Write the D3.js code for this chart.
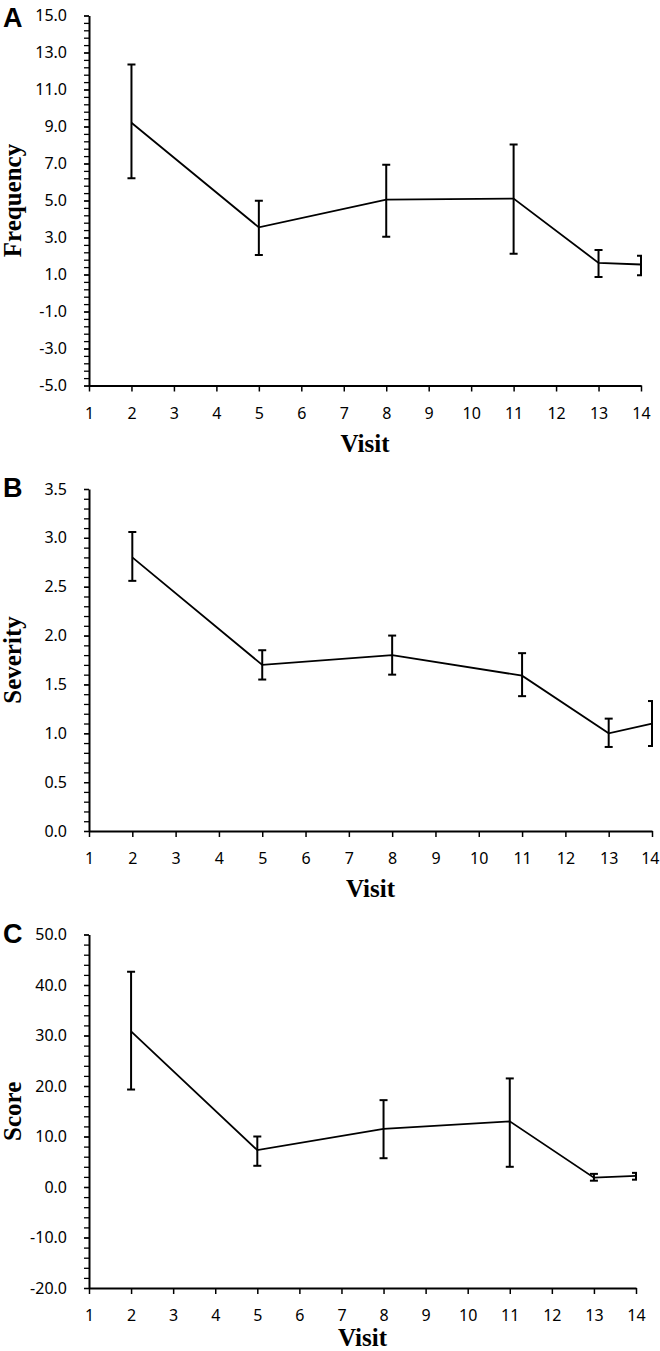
<!DOCTYPE html>
<html>
<head>
<meta charset="utf-8">
<script src="https://cdn.jsdelivr.net/npm/d3@7"></script>
<style>
  html, body { margin: 0; padding: 0; background: #fff; }
  svg { display: block; }
</style>
</head>
<body>
<svg id="chart" width="660" height="1351"></svg>
<script>
// ---------------- DATA ----------------
const visits = [2, 5, 8, 11, 13, 14];
const xTickValues = [1, 2, 3, 4, 5, 6, 7, 8, 9, 10, 11, 12, 13, 14];

const freqMean = [9.2, 3.55, 5.05, 5.1, 1.63, 1.54];
const freqLow  = [6.2, 2.05, 3.04, 2.12, 0.86, 0.96];
const freqHigh = [12.35, 4.98, 6.93, 8.03, 2.33, 2.01];
const freqTicks = [-5, -3, -1, 1, 3, 5, 7, 9, 11, 13, 15];

const sevMean = [2.8, 1.7, 1.8, 1.59, 1.0, 1.1];
const sevLow  = [2.56, 1.55, 1.6, 1.38, 0.86, 0.87];
const sevHigh = [3.06, 1.85, 2.0, 1.82, 1.15, 1.33];
const sevTicks = [0, 0.5, 1.0, 1.5, 2.0, 2.5, 3.0, 3.5];

const scoreMean = [30.8, 7.3, 11.5, 13.0, 1.85, 2.2];
const scoreLow  = [19.3, 4.2, 5.7, 4.0, 1.25, 1.45];
const scoreHigh = [42.6, 10.0, 17.2, 21.5, 2.6, 2.8];
const scoreTicks = [-20, -10, 0, 10, 20, 30, 40, 50];

const panelLetters = ["A", "B", "C"];
const yTitles = ["Frequency", "Severity", "Score"];
const xTitle = "Visit";

// ---------------- LAYOUT ----------------
const panels = [
  { letter: panelLetters[0], title: yTitles[0], mean: freqMean, low: freqLow, high: freqHigh,
    ticks: freqTicks, minorStep: 0.4, x0: 89, x1: 641, yTop: 15.5, yBot: 385.5,
    letterY: 27, xTitleY: 452 },
  { letter: panelLetters[1], title: yTitles[1], mean: sevMean, low: sevLow, high: sevHigh,
    ticks: sevTicks, minorStep: 0.1, x0: 89, x1: 652, yTop: 489, yBot: 831,
    letterY: 497, xTitleY: 897 },
  { letter: panelLetters[2], title: yTitles[2], mean: scoreMean, low: scoreLow, high: scoreHigh,
    ticks: scoreTicks, minorStep: 2, x0: 89, x1: 636, yTop: 934.5, yBot: 1288,
    letterY: 943, xTitleY: 1346 }
];

const W = 660;
const svg = d3.select("#chart");
const tickFont = "'Noto Sans', 'Open Sans', sans-serif";
const serif = "'Liberation Serif', 'Times New Roman', serif";
const fmt = d3.formatLocale({ decimal: ".", thousands: ",", grouping: [3], currency: ["", ""], minus: "-" });
const yFmt = fmt.format(".1f");
const xFmt = fmt.format("d");

panels.forEach((p, i) => {
  const g = svg.append("g");
  const yMin = p.ticks[0], yMax = p.ticks[p.ticks.length - 1];
  const x = d3.scaleLinear().domain([1, 14]).range([p.x0, p.x1]);
  const y = d3.scaleLinear().domain([yMin, yMax]).range([p.yBot, p.yTop]);

  // minor y ticks
  const nMinor = Math.round((yMax - yMin) / p.minorStep);
  const minorVals = d3.range(nMinor + 1).map(k => yMin + k * p.minorStep);
  g.append("g")
    .attr("transform", `translate(${p.x0},0)`)
    .call(d3.axisLeft(y).tickValues(minorVals).tickSize(5).tickFormat(""))
    .call(a => a.select(".domain").remove())
    .call(a => a.selectAll("line").attr("stroke", "#000").attr("stroke-width", 1.3));

  // major y axis
  const yAxis = g.append("g")
    .attr("transform", `translate(${p.x0},0)`)
    .call(d3.axisLeft(y).tickValues(p.ticks).tickSize(5).tickSizeOuter(0).tickPadding(17)
      .tickFormat(yFmt));
  yAxis.attr("font-size", null).attr("font-family", null);
  yAxis.select(".domain").attr("stroke", "#000").attr("stroke-width", 2);
  yAxis.selectAll("line").attr("stroke", "#000").attr("stroke-width", 1.3);
  yAxis.selectAll("text").attr("font-family", tickFont).attr("font-size", 16).attr("fill", "#000");

  // x axis
  const xAxis = g.append("g")
    .attr("transform", `translate(0,${p.yBot})`)
    .call(d3.axisBottom(x).tickValues(xTickValues).tickSize(6).tickSizeOuter(0).tickPadding(16)
      .tickFormat(xFmt));
  xAxis.attr("font-size", null).attr("font-family", null);
  xAxis.select(".domain").attr("stroke", "#000").attr("stroke-width", 2);
  xAxis.selectAll("line").attr("stroke", "#000").attr("stroke-width", 1.5);
  xAxis.selectAll("text").attr("font-family", tickFont).attr("font-size", 16).attr("fill", "#000");
  // keep tick labels inside the page
  xAxis.selectAll(".tick text").each(function (d) {
    const bb = this.getBBox();
    const right = x(d) + bb.x + bb.width;
    if (right > W - 1) d3.select(this).attr("dx", (W - 1 - right));
  });

  // clip for error bars (caps at last point are cut by the plot edge)
  const clipId = "clip" + i;
  svg.append("clipPath").attr("id", clipId)
    .append("rect")
    .attr("x", p.x0).attr("y", p.yTop - 10)
    .attr("width", p.x1 - p.x0 + 1).attr("height", p.yBot - p.yTop + 20);

  const pts = visits.map((v, k) => ({ v, m: p.mean[k], lo: p.low[k], hi: p.high[k] }));

  const eb = g.append("g").attr("clip-path", `url(#${clipId})`)
    .attr("stroke", "#000").attr("stroke-width", 2).attr("fill", "none");
  const capW = 4;
  pts.forEach(d => {
    eb.append("line").attr("x1", x(d.v)).attr("x2", x(d.v)).attr("y1", y(d.lo)).attr("y2", y(d.hi));
    eb.append("line").attr("x1", x(d.v) - capW).attr("x2", x(d.v) + capW).attr("y1", y(d.lo)).attr("y2", y(d.lo));
    eb.append("line").attr("x1", x(d.v) - capW).attr("x2", x(d.v) + capW).attr("y1", y(d.hi)).attr("y2", y(d.hi));
  });

  // mean line
  g.append("path")
    .datum(pts)
    .attr("fill", "none")
    .attr("stroke", "#000")
    .attr("stroke-width", 1.8)
    .attr("d", d3.line().x(d => x(d.v)).y(d => y(d.m)));

  // panel letter
  svg.append("text")
    .attr("x", 3).attr("y", p.letterY)
    .attr("font-family", "'Liberation Sans', Arial, sans-serif")
    .attr("font-weight", "bold").attr("font-size", 27)
    .attr("fill", "#000")
    .text(p.letter);

  // y title
  svg.append("text")
    .attr("transform", `translate(21,${(p.yTop + p.yBot) / 2}) rotate(-90)`)
    .attr("text-anchor", "middle")
    .attr("font-family", serif).attr("font-weight", "bold").attr("font-size", 25)
    .attr("fill", "#000")
    .text(p.title);

  // x title
  svg.append("text")
    .attr("x", (p.x0 + p.x1) / 2).attr("y", p.xTitleY)
    .attr("text-anchor", "middle")
    .attr("font-family", serif).attr("font-weight", "bold").attr("font-size", 25)
    .attr("fill", "#000")
    .text(xTitle);
});
</script>
</body>
</html>
